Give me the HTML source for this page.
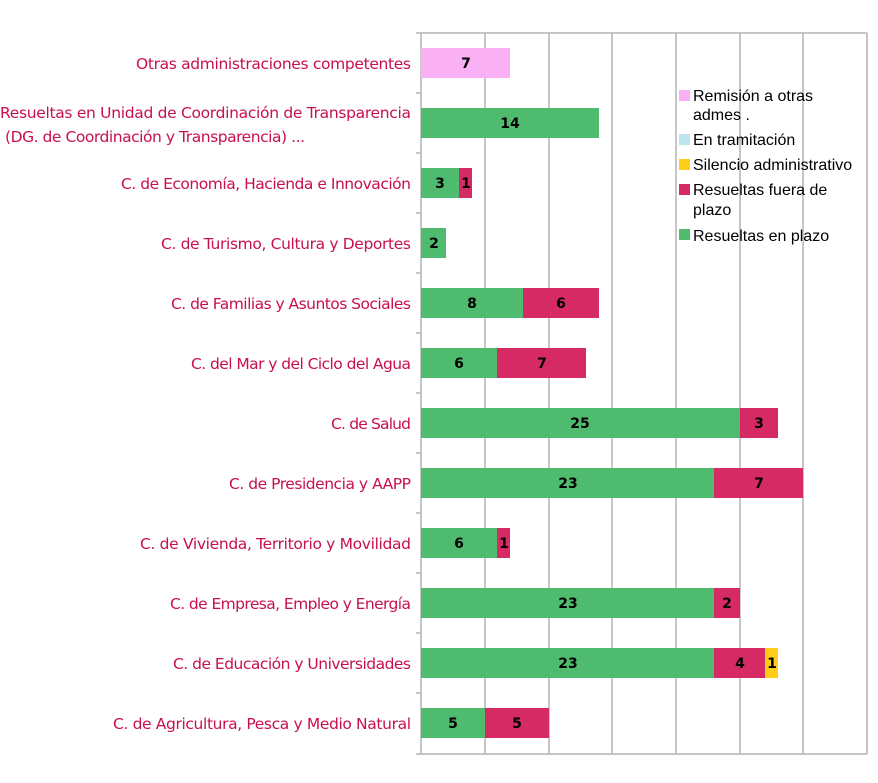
<!DOCTYPE html>
<html><head><meta charset="utf-8"><style>
html,body{margin:0;padding:0;background:#fff;}
svg{display:block;font-family:"DejaVu Sans","Liberation Sans",sans-serif;}
.l{fill:#c8104a;font-size:15.5px;text-anchor:end;}
.v{fill:#000;font-size:14px;font-weight:bold;text-anchor:middle;}
.g{stroke:#b3b3b3;stroke-width:1.5;}
.lg{font-family:"Liberation Sans",sans-serif;font-size:16px;fill:#000;}
</style></head><body>
<svg width="878" height="783" viewBox="0 0 878 783">
<g class="g">
<line x1="421" y1="33" x2="421" y2="754"/><line x1="485" y1="33" x2="485" y2="754"/>
<line x1="549" y1="33" x2="549" y2="754"/><line x1="612" y1="33" x2="612" y2="754"/>
<line x1="676" y1="33" x2="676" y2="754"/><line x1="740" y1="33" x2="740" y2="754"/>
<line x1="803" y1="33" x2="803" y2="754"/><line x1="867" y1="33" x2="867" y2="754"/>
<line x1="416" y1="33" x2="867" y2="33"/><line x1="416" y1="754" x2="867" y2="754"/>
<line x1="416" y1="93" x2="421" y2="93"/><line x1="416" y1="153" x2="421" y2="153"/>
<line x1="416" y1="213" x2="421" y2="213"/><line x1="416" y1="273" x2="421" y2="273"/>
<line x1="416" y1="333" x2="421" y2="333"/><line x1="416" y1="393" x2="421" y2="393"/>
<line x1="416" y1="453" x2="421" y2="453"/><line x1="416" y1="513" x2="421" y2="513"/>
<line x1="416" y1="573" x2="421" y2="573"/><line x1="416" y1="633" x2="421" y2="633"/>
<line x1="416" y1="693" x2="421" y2="693"/>
</g>
<g>
<rect x="421" y="48" width="89" height="30" fill="#f9b0f5"/>
<rect x="421" y="108" width="178" height="30" fill="#4fbb6f"/>
<rect x="421" y="168" width="38" height="30" fill="#4fbb6f"/><rect x="459" y="168" width="13" height="30" fill="#d62a65"/>
<rect x="421" y="228" width="25" height="30" fill="#4fbb6f"/>
<rect x="421" y="288" width="102" height="30" fill="#4fbb6f"/><rect x="523" y="288" width="76" height="30" fill="#d62a65"/>
<rect x="421" y="348" width="76" height="30" fill="#4fbb6f"/><rect x="497" y="348" width="89" height="30" fill="#d62a65"/>
<rect x="421" y="408" width="319" height="30" fill="#4fbb6f"/><rect x="740" y="408" width="38" height="30" fill="#d62a65"/>
<rect x="421" y="468" width="293" height="30" fill="#4fbb6f"/><rect x="714" y="468" width="89" height="30" fill="#d62a65"/>
<rect x="421" y="528" width="76" height="30" fill="#4fbb6f"/><rect x="497" y="528" width="13" height="30" fill="#d62a65"/>
<rect x="421" y="588" width="293" height="30" fill="#4fbb6f"/><rect x="714" y="588" width="26" height="30" fill="#d62a65"/>
<rect x="421" y="648" width="293" height="30" fill="#4fbb6f"/><rect x="714" y="648" width="51" height="30" fill="#d62a65"/><rect x="765" y="648" width="13" height="30" fill="#ffcc1a"/>
<rect x="421" y="708" width="64" height="30" fill="#4fbb6f"/><rect x="485" y="708" width="64" height="30" fill="#d62a65"/>
</g>
<g class="v">
<text x="466" y="68">7</text><text x="510" y="128">14</text>
<text x="440" y="188">3</text><text x="466" y="188">1</text>
<text x="434" y="248">2</text>
<text x="472" y="308">8</text><text x="561" y="308">6</text>
<text x="459" y="368">6</text><text x="542" y="368">7</text>
<text x="580" y="428">25</text><text x="759" y="428">3</text>
<text x="568" y="488">23</text><text x="759" y="488">7</text>
<text x="459" y="548">6</text><text x="504" y="548">1</text>
<text x="568" y="608">23</text><text x="727" y="608">2</text>
<text x="568" y="668">23</text><text x="740" y="668">4</text><text x="772" y="668">1</text>
<text x="453" y="728">5</text><text x="517" y="728">5</text>
</g>
<g class="l">
<text x="411" y="69" textLength="275">Otras administraciones competentes</text>
<text x="411" y="118" textLength="411">Resueltas en Unidad de Coordinación de Transparencia</text>
<text x="305" y="142" textLength="300">(DG. de Coordinación y Transparencia) ...</text>
<text x="411" y="189" textLength="290">C. de Economía, Hacienda e Innovación</text>
<text x="411" y="249" textLength="250">C. de Turismo, Cultura y Deportes</text>
<text x="411" y="309" textLength="240">C. de Familias y Asuntos Sociales</text>
<text x="411" y="369" textLength="220">C. del Mar y del Ciclo del Agua</text>
<text x="411" y="429" textLength="80">C. de Salud</text>
<text x="411" y="489" textLength="182">C. de Presidencia y AAPP</text>
<text x="411" y="549" textLength="271">C. de Vivienda, Territorio y Movilidad</text>
<text x="411" y="609" textLength="241">C. de Empresa, Empleo y Energía</text>
<text x="411" y="669" textLength="238">C. de Educación y Universidades</text>
<text x="411" y="729" textLength="298">C. de Agricultura, Pesca y Medio Natural</text>
</g>
<rect x="679" y="90" width="11" height="11" fill="#f9b0f5"/>
<text class="lg" x="693" y="101">Remisión a otras</text>
<text class="lg" x="693" y="120">admes  .</text>
<rect x="679" y="134" width="11" height="11" fill="#bde3ee"/>
<text class="lg" x="693" y="145">En tramitación</text>
<rect x="679" y="159" width="11" height="11" fill="#ffcc1a"/>
<text class="lg" x="693" y="170">Silencio administrativo</text>
<rect x="679" y="184" width="11" height="11" fill="#d62a65"/>
<text class="lg" x="693" y="195">Resueltas fuera de</text>
<text class="lg" x="693" y="215">plazo</text>
<rect x="679" y="229" width="11" height="11" fill="#4fbb6f"/>
<text class="lg" x="693" y="241">Resueltas en plazo</text>
</svg>
</body></html>
